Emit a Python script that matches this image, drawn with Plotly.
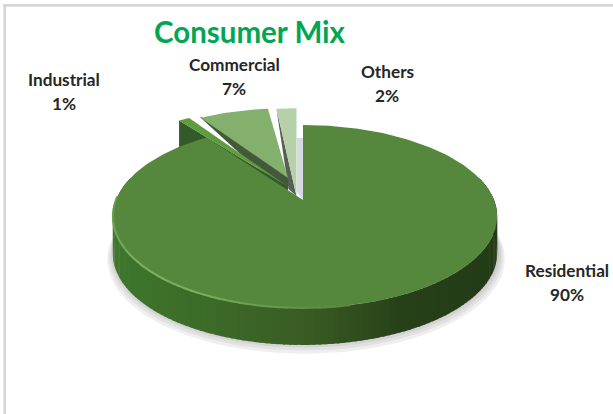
import math
import numpy as np
import plotly.graph_objects as go

# Consumer shares, in drawing order going clockwise from twelve o'clock
categories = ["Residential", "Industrial", "Commercial", "Others"]
shares = [90, 1, 7, 2]
share_labels = ["90%", "1%", "7%", "2%"]

# Perspective disc: pixel-space axes, so the projection works directly in px
CX, CY = 303.0, 200.0
RX, RY = 189.0, 88.5
TILT = 0.18
DEPTH = 37.0
LEAN = 0.0106  # the widest part of the disc sits slightly right of its hub

WIDTH, HEIGHT = 613, 414


def project(theta_deg, ox=CX, oy=CY, sx=1.0, sy=1.0, dy=0.0):
    t = np.radians(theta_deg)
    u, v = np.sin(t), np.cos(t)
    w = 1 + TILT * v
    return ox + sx * RX * (u + LEAN * u * u) / w, oy + dy - sy * RY * v / w


def arc(a, b, n=60, **kw):
    return project(np.linspace(a, b, n), **kw)


fig = go.Figure()


def poly(xs, ys, color):
    fig.add_trace(go.Scatter(
        x=list(xs), y=list(ys), mode="lines", fill="toself", fillcolor=color,
        line=dict(color="rgba(0,0,0,0)", width=0),
        hoverinfo="skip", showlegend=False))


def stroke(xs, ys, color, width):
    fig.add_trace(go.Scatter(
        x=list(xs), y=list(ys), mode="lines", line=dict(color=color, width=width),
        hoverinfo="skip", showlegend=False))


def mix(c1, c2, f):
    f = max(0.0, min(1.0, f))
    return "rgb(%d,%d,%d)" % tuple(round(a + (b - a) * f) for a, b in zip(c1, c2))


# Slice spans from the shares
total = sum(shares)
spans = {}
start = 0.0
for name, s in zip(categories, shares):
    spans[name] = (start, start + 360.0 * s / total)
    start += 360.0 * s / total
res_a, res_b = spans["Residential"]
ind_a, ind_b = spans["Industrial"]
com_a, com_b = spans["Commercial"]
oth_a, oth_b = spans["Others"]

# Soft ground shadow, built up from translucent discs
for grow, extra in [(1.035, 9), (1.025, 7), (1.016, 5), (1.008, 3)]:
    xs, ys = arc(55, 290, 120, ox=CX + 1, sx=grow, sy=grow, dy=DEPTH + extra - 4)
    poly(xs, ys, "rgba(120,120,120,0.12)")

# Pale shadow in the gap right of the Others slice
gx = [CX - 6, CX, CX, CX - 6]
gy = [CY - 62, CY - 62, CY, CY - 8]
poly(gx, gy, "#d6d9e2")

# Others: dark cut face, then the pale top
oa, ob = 296.5, 196.0
tx, ty = arc(oth_a, oth_b, 12, ox=oa, oy=ob, sy=1.17)
poly([tx[0], oa, oa - 8, tx[0]], [ty[0], ob, ob - 7, ty[0]], "#585f55")
poly(list(tx) + [oa], list(ty) + [ob], "#b6d0aa")

# Commercial: dark band along the left edge, then the top
ca, cb = 288.0, 178.0
tx, ty = arc(com_a, com_b, 24, ox=ca, oy=cb, sy=0.93)
mx, my = (tx[0] + ca) / 2, (ty[0] + cb) / 2
poly([tx[0] - 1, mx - 2, ca, ca, tx[0] + 2], [ty[0] - 1, my + 8, cb + 13, cb - 2, ty[0]], "#44593a")
poly(list(tx) + [ca], list(ty) + [cb], "#84b06e")

# Industrial: cut face sinks behind the main disc, light sliver on top
ia, ib = 287.0, 186.0
tx, ty = arc(ind_a, ind_b, 6, ox=ia, oy=ib, sx=1.12, sy=1.05)
poly([tx[0], ia, ia, tx[0]], [ty[0], ib, ib + 7, ty[0] + 28], "#345a29")
poly(list(tx) + [ia], list(ty) + [ib], "#5f9c3e")

# Residential wall: narrow facets shaded from mid green to near black on the right
stops = [(-1.0, (62, 120, 44)), (-0.45, (60, 108, 40)), (0.0, (58, 92, 36)),
         (0.45, (38, 64, 24)), (1.0, (34, 58, 22))]


def wall_colour(u):
    for (u0, c0), (u1, c1) in zip(stops, stops[1:]):
        if u <= u1:
            return mix(c0, c1, (u - u0) / (u1 - u0))
    return mix(stops[-2][1], stops[-1][1], 1)


edges = np.linspace(75, 285, 141)
for a, b in zip(edges[:-1], edges[1:]):
    ax, ay = arc(a, b + 0.5, 3)
    bx, by = arc(b + 0.5, a, 3, dy=DEPTH)
    poly(list(ax) + list(bx), list(ay) + list(by), wall_colour(math.sin(math.radians((a + b) / 2))))

# Residential top face
FACE = (85, 136, 60)
tx, ty = arc(res_a, res_b, 240)
poly(list(tx) + [CX], list(ty) + [CY], "rgb(%d,%d,%d)" % FACE)

# Bevel along the front rim: fades in from the bottom, brightest lower left
rim = np.linspace(168, 272, 53)
for a, b in zip(rim[:-1], rim[1:]):
    mid = (a + b) / 2
    glow = min((mid - 168) / 40.0, 1.0) * (1.0 if mid < 232 else max(0.35, 1 - (mid - 232) / 60.0))
    hx, hy = arc(a, b + 0.3, 3)
    stroke(hx, hy, mix(FACE, (122, 176, 96), glow), 2)

# Frame along the top and left of the chart
frame = dict(type="line", xref="x", yref="y", line=dict(color="#d6d6d6", width=2.7))
shapes = [dict(frame, x0=3.4, x1=WIDTH, y0=5.3, y1=5.3), dict(frame, x0=4.7, x1=4.7, y0=4, y1=HEIGHT)]

# Category labels, name above its percentage
label_pos = {"Industrial": (64, 91), "Commercial": (234, 76), "Others": (387, 83), "Residential": (567, 282)}
LABEL_FONT = dict(family="Lato", size=17.2, color="#262626")
annotations = []
for c, p in zip(categories, share_labels):
    lx, ly = label_pos[c]
    annotations.append(dict(x=lx, y=ly - 12, xref="x", yref="y", showarrow=False, text=f"<b>{c}</b>", font=LABEL_FONT))
    annotations.append(dict(x=lx, y=ly + 12, xref="x", yref="y", showarrow=False, text=f"<b>{p}</b>", font=LABEL_FONT))
annotations.append(dict(
    x=250, y=31, xref="x", yref="y", showarrow=False, text="<b>Consumer Mix</b>",
    font=dict(family="Lato", size=29.5, color="#00a651")))

fig.update_layout(
    width=WIDTH, height=HEIGHT, margin=dict(l=0, r=0, t=0, b=0),
    paper_bgcolor="white", plot_bgcolor="white", showlegend=False,
    xaxis=dict(range=[0, WIDTH], visible=False, fixedrange=True),
    yaxis=dict(range=[HEIGHT, 0], visible=False, fixedrange=True),
    shapes=shapes, annotations=annotations)
fig.write_html("out.html", config={"displayModeBar": False})
